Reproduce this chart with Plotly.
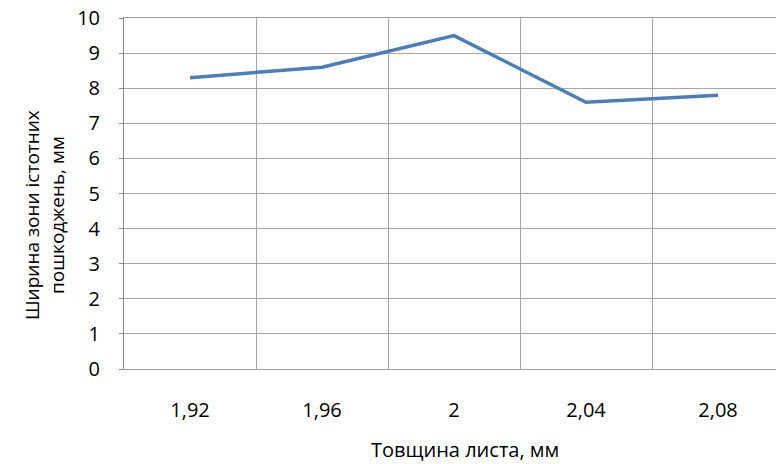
import plotly.graph_objects as go

categories = ["1,92", "1,96", "2", "2,04", "2,08"]
values = [8.3, 8.6, 9.5, 7.6, 7.8]
y_ticks = list(range(0, 11))

x_title = "Товщина листа, мм"
y_title = "Ширина зони істотних<br>пошкоджень, мм"

font_family = "'Open Sans', sans-serif"

fig = go.Figure()
fig.add_trace(go.Scatter(
    x=categories, y=values, mode="lines",
    line=dict(color="#4a7ebb", width=3.5),
    showlegend=False,
))

# page offset of 8px (body margin) compensated
OFF = 8
W, H = 784 - OFF, 464 - OFF
L, R, T, B = 124 - OFF, 0, 18 - OFF, 464 - 369
PH = H - T - B
PW = W - L - R

fig.update_layout(
    width=W, height=H,
    margin=dict(l=L, r=R, t=T, b=B),
    paper_bgcolor="white", plot_bgcolor="white",
    font=dict(family=font_family, size=20, color="#000000"),
)
fig.update_xaxes(
    type="category", tickson="boundaries",
    showgrid=True, gridcolor="#a6a6a6", gridwidth=1,
    showline=True, linecolor="#a0a0a0", linewidth=1, mirror=True,
    ticks="", ticklabelstandoff=23,
    tickfont=dict(size=20),
    range=[-0.5, 4.5], automargin=False,
)
fig.update_yaxes(
    range=[0, 10.001], tickvals=y_ticks,
    showgrid=True, gridcolor="#a6a6a6", gridwidth=1,
    showline=True, linecolor="#888888", linewidth=1,
    ticks="outside", ticklen=4, tickcolor="#888888",
    ticklabelstandoff=15, ticklabeloverflow="allow",
    tickfont=dict(size=20),
    zeroline=False, automargin=False,
)
fig.add_annotation(
    text=x_title, xref="paper", yref="paper",
    x=(465 - 124) / PW, y=-(449 - 369) / PH,
    xanchor="center", yanchor="middle", showarrow=False,
    font=dict(size=20),
)
fig.add_annotation(
    text=y_title, xref="paper", yref="paper",
    x=-(124 - 45) / PW, y=(369 - 215) / PH,
    xanchor="center", yanchor="middle", showarrow=False,
    textangle=-90, font=dict(size=19),
)

fig.write_html("out.html")
